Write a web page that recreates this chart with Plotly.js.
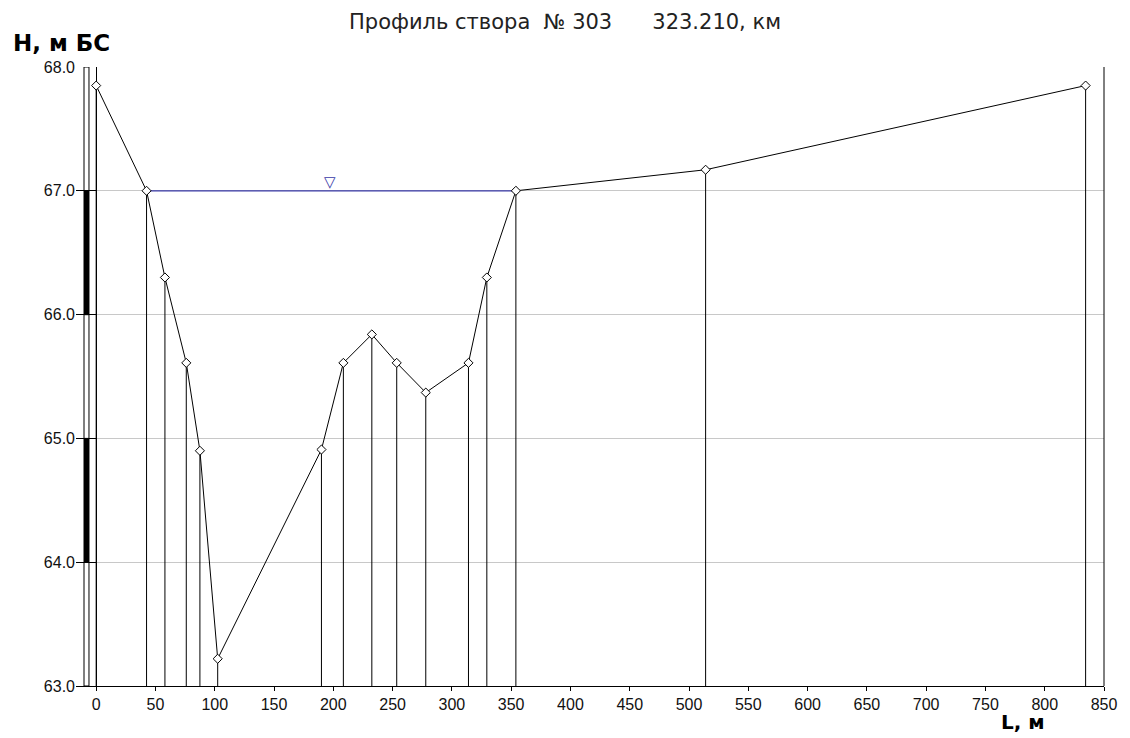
<!DOCTYPE html>
<html>
<head>
<meta charset="utf-8">
<script src="https://cdn.plot.ly/plotly-3.0.1.min.js"></script>
<style>html,body{margin:0;padding:0;background:#fff;}#chart{width:1130px;height:738px;}</style>
</head>
<body>
<div id="chart"></div>
<script>
// Profile points: distance L (m) and elevation H (m BS)
const distL = [0, 42.5, 58, 76, 87.5, 102.5, 190, 208.5, 232.5, 253.5, 278, 314, 329.5, 354, 514, 834.5];
const elevH = [67.85, 67.0, 66.3, 65.61, 64.9, 63.22, 64.91, 65.61, 65.84, 65.61, 65.37, 65.61, 66.3, 67.0, 67.17, 67.85];
// Water level
const waterLevel = 67.0;
const waterFromL = 42.5;
const waterToL = 354;
const waterMarkL = 197;
// Axis
const yMin = 63, yMax = 68;
const xMin = -17, xMax = 850;
// Scale ruler segments (bottom of each 1 m segment)
const rulerBase = [63, 64, 65, 66, 67];
const rulerFill = ['#ffffff', '#000000', '#ffffff', '#000000', '#ffffff'];

const rulerX = -8.15, rulerW = 4.2;

// drop lines
const dropX = [], dropY = [];
distL.forEach((x, i) => { dropX.push(x, x, null); dropY.push(elevH[i], yMin, null); });

const traces = [
  {
    type: 'bar', x: rulerBase.map(() => rulerX), y: rulerBase.map(() => 1), base: rulerBase,
    width: rulerBase.map(() => rulerW),
    marker: {color: rulerFill, line: {color: '#000', width: 1}},
    hoverinfo: 'skip', showlegend: false
  },
  {
    type: 'scatter', mode: 'lines', x: dropX, y: dropY,
    line: {color: '#000', width: 1}, hoverinfo: 'skip', showlegend: false
  },
  {
    type: 'scatter', mode: 'lines', x: [waterFromL, waterToL], y: [waterLevel, waterLevel],
    line: {color: '#3a3aa8', width: 1.3}, hoverinfo: 'skip', showlegend: false
  },
  {
    type: 'scatter', mode: 'lines+markers', x: distL, y: elevH,
    line: {color: '#000', width: 1},
    marker: {symbol: 'diamond', size: 7, color: '#fff', line: {color: '#000', width: 1}},
    showlegend: false
  }
];

const layout = {
  width: 1130, height: 738,
  margin: {l: 76, r: 26, t: 67, b: 52},
  paper_bgcolor: '#fff', plot_bgcolor: '#fff',
  barmode: 'overlay',
  font: {family: 'Liberation Sans, Arial, sans-serif', color: '#000'},
  title: {
    text: 'Профиль створа&nbsp;&nbsp;№ 303&nbsp;&nbsp;&nbsp;&nbsp;&nbsp;&nbsp;323.210, км',
    x: 0.5, xref: 'container', xanchor: 'center',
    y: 0.971, yref: 'container', yanchor: 'middle',
    font: {family: 'DejaVu Sans, sans-serif', size: 21, color: '#222'}
  },
  xaxis: {
    range: [xMin, xMax], tick0: 0, dtick: 50, showgrid: false,
    zeroline: true, zerolinecolor: '#000', zerolinewidth: 1,
    showline: true, linecolor: '#000', linewidth: 1,
    ticks: 'outside', ticklen: 4, tickcolor: '#000',
    tickfont: {size: 16, color: '#111'}, fixedrange: true
  },
  yaxis: {
    range: [yMin, yMax], dtick: 1, tickformat: '.1f',
    showgrid: true, gridcolor: '#c8c8c8', gridwidth: 1,
    zeroline: false, showline: false,
    ticks: 'inside', ticklen: 20, tickcolor: '#000',
    tickfont: {size: 16, color: '#111'}, fixedrange: true
  },
  shapes: [
    {type: 'line', xref: 'paper', yref: 'paper', x0: 1, x1: 1, y0: 0, y1: 1, line: {color: '#000', width: 1}}
  ],
  annotations: [
    {text: '<b>Н, м БС</b>', xref: 'paper', yref: 'paper', x: -0.0633, y: 1.014,
     xanchor: 'left', yanchor: 'bottom', showarrow: false,
     font: {family: 'DejaVu Sans, sans-serif', size: 23, color: '#000'}},
    {text: '<b>L, м</b>', xref: 'paper', yref: 'paper', x: 0.921, y: -0.058,
     xanchor: 'center', yanchor: 'middle', showarrow: false,
     font: {family: 'DejaVu Sans, sans-serif', size: 20, color: '#000'}},
    {text: '▽', x: waterMarkL, y: waterLevel, xref: 'x', yref: 'y',
     xanchor: 'center', yanchor: 'bottom', showarrow: false, yshift: -2,
     font: {family: 'DejaVu Sans, sans-serif', size: 15, color: '#3a3aa8'}}
  ]
};

Plotly.newPlot('chart', traces, layout, {staticPlot: true, displayModeBar: false});
</script>
</body>
</html>
